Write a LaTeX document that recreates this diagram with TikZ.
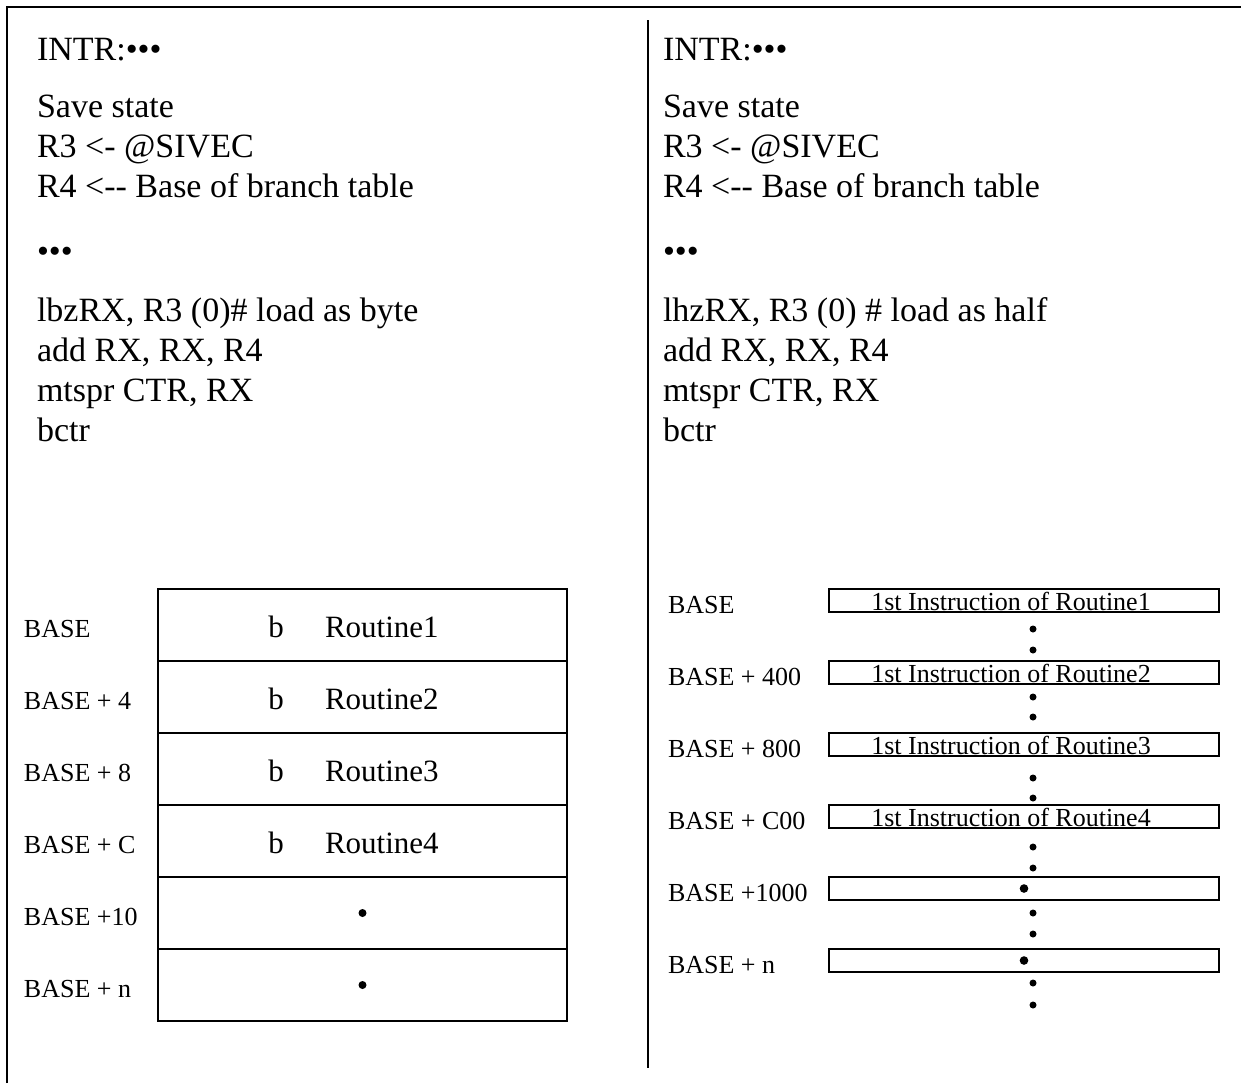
\documentclass[tikz,border=0pt]{standalone}
\usepackage{fontspec}
\setmainfont{Liberation Serif}
\usetikzlibrary{positioning}

\begin{document}
\begin{tikzpicture}[
    x=0.5pt, y=-0.5pt,
    line width=1pt,
    code/.style={anchor=base west, inner sep=0pt, font=\fontsize{17}{20}\selectfont},
    addr/.style={anchor=base west, inner sep=0pt, font=\fontsize{13}{16}\selectfont},
    slot/.style={draw, minimum width=204.5pt, minimum height=36pt, inner sep=0pt},
    entry/.style={draw, minimum width=195pt, minimum height=11.5pt, inner sep=0pt},
    instr/.style={anchor=base, inner sep=0pt, font=\fontsize{13}{16}\selectfont},
    brop/.style={inner sep=0pt, font=\fontsize{15.5}{18}\selectfont},
    blob/.style={circle, fill, inner sep=0pt, minimum size=3.5pt},
  ]
  \useasboundingbox (0,0) rectangle (1241,1083);

  %% ---- frame ---------------------------------------------------------
  \draw (7,1083) -- (7,7) -- (1241,7);
  \draw (648,20) -- (648,1068);

  %% ---- byte offsets: code --------------------------------------------
  \node[code] (intrL) at (36,60) {INTR:•••};
  \foreach \txt [count=\i] in {Save state, R3 <- @SIVEC, R4 <-{}- Base of branch table}
    \node[code] (headL\i) at (36,{117+40*(\i-1)}) {\txt};
  \node[code] (gapL) at (36,262) {•••};
  \foreach \txt [count=\i] in {{lbzRX, R3 (0)\# load as byte}, {add RX, RX, R4}, {mtspr CTR, RX}, bctr}
    \node[code] (opL\i) at (36,{321+40*(\i-1)}) {\txt};

  %% ---- byte offsets: branch table ------------------------------------
  \foreach \lab [count=\i] in {BASE, BASE + 4, BASE + 8, BASE + C, BASE +10, BASE + n} {
    \node[slot] (slot\i) at (362.5,{625+72*(\i-1)}) {};
    \node[addr] (addrL\i) at (23,{637+72*(\i-1)}) {\lab};
  }
  \foreach \i in {1,...,4} {
    \node[brop, anchor=base] (bop\i) at (276,{637+72*(\i-1)}) {b};
    \node[brop, anchor=base west] (bdst\i) at (324,{637+72*(\i-1)}) {Routine\i};
  }
  \node[blob, minimum size=4pt] (slotdot5) at (slot5.center) {};
  \node[blob, minimum size=4pt] (slotdot6) at (slot6.center) {};

  %% ---- half offsets: code --------------------------------------------
  \node[code] (intrR) at (662,60) {INTR:•••};
  \foreach \txt [count=\i] in {Save state, R3 <- @SIVEC, R4 <-{}- Base of branch table}
    \node[code] (headR\i) at (662,{117+40*(\i-1)}) {\txt};
  \node[code] (gapR) at (662,262) {•••};
  \foreach \txt [count=\i] in {{lhzRX, R3 (0) \# load as half}, {add RX, RX, R4}, {mtspr CTR, RX}, bctr}
    \node[code] (opR\i) at (662,{321+40*(\i-1)}) {\txt};

  %% ---- half offsets: routine bodies ----------------------------------
  \foreach \lab [count=\i] in {BASE, BASE + 400, BASE + 800, BASE + C00, BASE +1000, BASE + n} {
    \node[entry] (ent\i) at (1024,{600.5+72*(\i-1)}) {};
    \node[addr] (addrR\i) at (667,{613+72*(\i-1)}) {\lab};
  }
  \foreach \i in {1,...,4}
    \node[instr] (ins\i) at (1011,{610+72*(\i-1)}) {1st Instruction of Routine\i};
  \node[blob, minimum size=4.3pt] (entdot5) at (ent5.center) {};
  \node[blob, minimum size=4.3pt] (entdot6) at (ent6.center) {};
  \foreach \y [count=\i] in {629,650,697,717,778,798,847,868,913,934,983,1005}
    \node[blob] (gapdot\i) at (1033,\y) {};
\end{tikzpicture}
\end{document}
